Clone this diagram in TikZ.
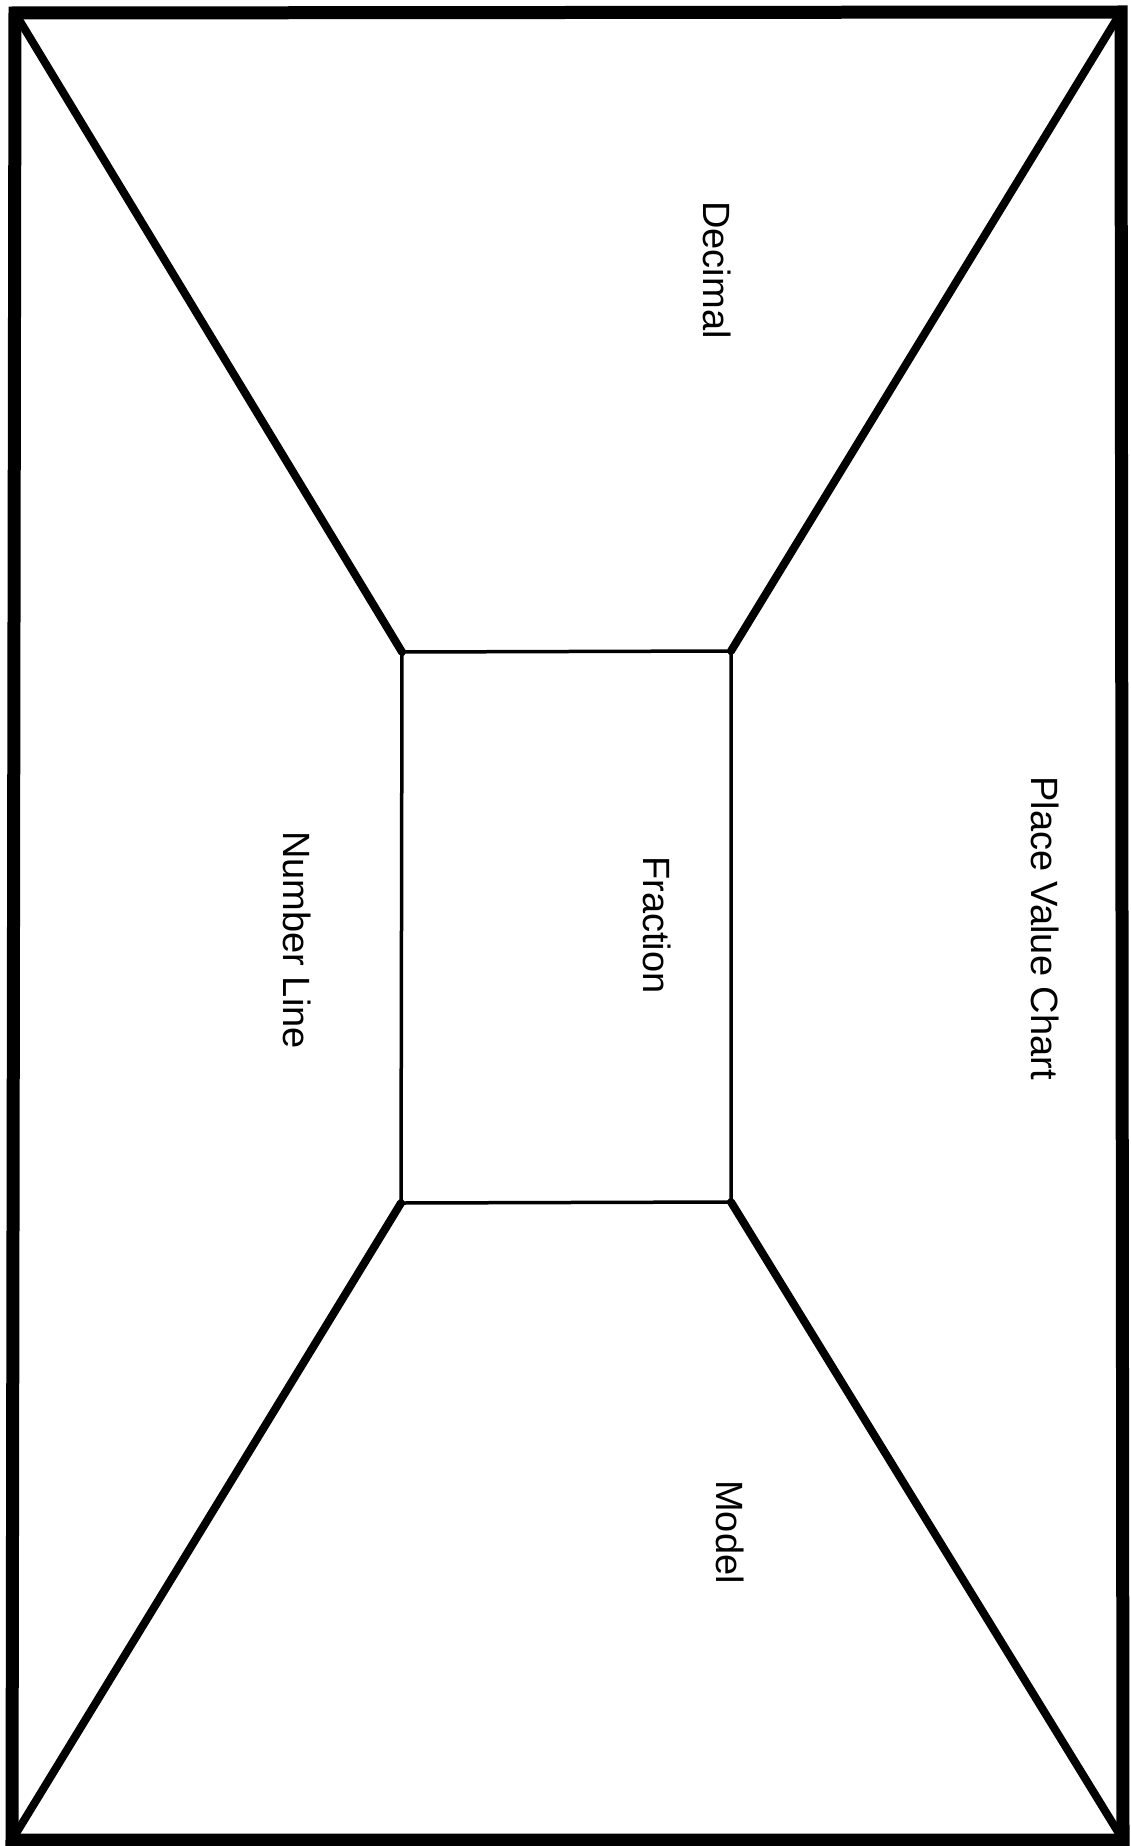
\documentclass[tikz,border=0pt]{standalone}
\usepackage{fontspec}
\setmainfont{Liberation Sans}
\begin{document}
\begin{tikzpicture}[x=1pt,y=-1pt,
  outerline/.style={line width=13pt,line join=miter},
  diag/.style={line width=8pt,line cap=round},
  innerline/.style={line width=3.5pt},
  lbl/.style={rotate=-90,font=\fontsize{38}{44}\selectfont,inner sep=0pt}]
\fill[white] (0,0) rectangle (1131,1846);
\useasboundingbox (0,0) rectangle (1131,1846);
\coordinate (oTL) at (15,13);
\coordinate (oTR) at (1121,12);
\coordinate (oBR) at (1123,1840);
\coordinate (oBL) at (12,1840);
\coordinate (iTL) at (402,652);
\coordinate (iTR) at (731,651);
\coordinate (iBR) at (731,1202);
\coordinate (iBL) at (401,1203);
\draw[diag] (oTL) -- (iTL);
\draw[diag] (oTR) -- (iTR);
\draw[diag] (oBR) -- (iBR);
\draw[diag] (oBL) -- (iBL);
\draw[innerline] (iTL) -- (iTR) -- (iBR) -- (iBL) -- cycle;
\draw[outerline] (oTL) -- (oTR) -- (oBR) -- (oBL) -- cycle;
\node[lbl] (dec) at (717,270) {Decimal};
\node[lbl] (pvc) at (1045,928) {Place Value Chart};
\node[lbl] (fra) at (657,925) {Fraction};
\node[lbl] (nl) at (297,940) {Number Line};
\node[lbl] (mod) at (730,1532) {Model};
\end{tikzpicture}
\end{document}
